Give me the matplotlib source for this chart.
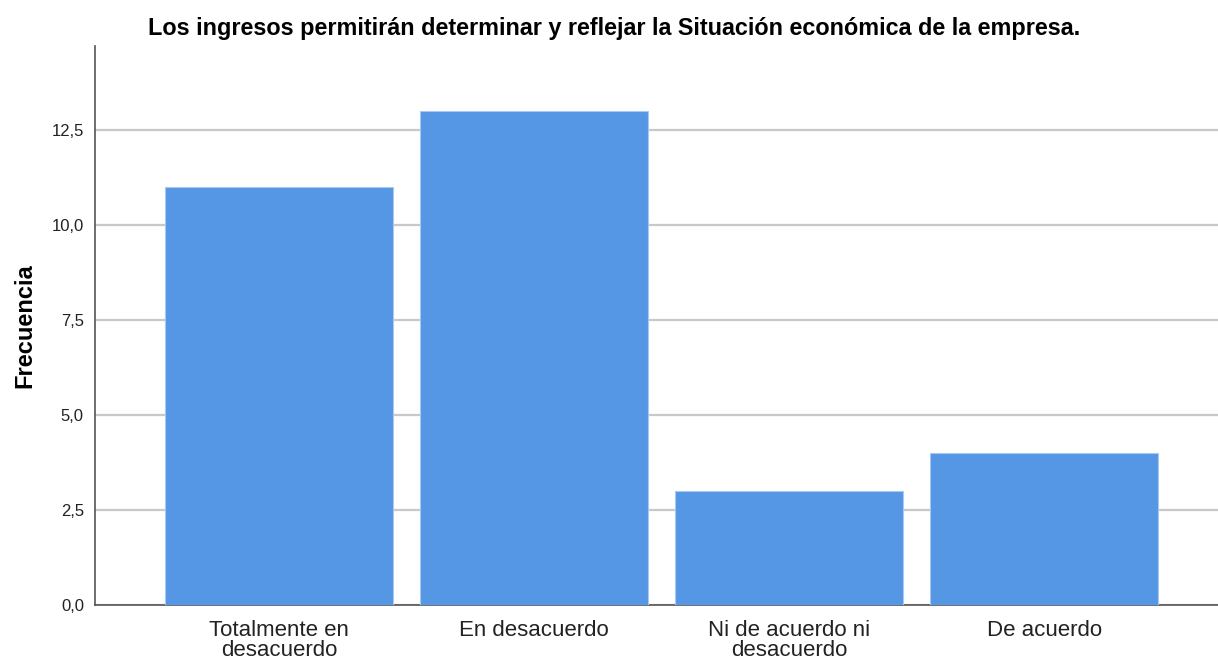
import matplotlib
matplotlib.use('Agg')
import matplotlib.pyplot as plt
from matplotlib.ticker import FuncFormatter, MultipleLocator

categorias = ['Totalmente en\ndesacuerdo', 'En desacuerdo', 'Ni de acuerdo ni\ndesacuerdo', 'De acuerdo']
frecuencias = [11, 13, 3, 4]
titulo = 'Los ingresos permitirán determinar y reflejar la Situación económica de la empresa.'

plt.rcParams['font.family'] = ['Liberation Sans', 'DejaVu Sans']

fig = plt.figure(figsize=(12.18, 6.62), dpi=100)
ax = fig.add_axes([95 / 1218, 57 / 662, 1 - 95 / 1218, (605 - 46) / 662])

x = list(range(len(categorias)))
ax.bar(x, frecuencias, width=0.894, color='#5596e5', edgecolor='#a9c9f2', linewidth=0.8, zorder=3)

ax.set_xlim(-0.722, 3.682)
ax.set_ylim(0, 14.71)
ax.yaxis.set_major_locator(MultipleLocator(2.5))
ax.yaxis.set_major_formatter(FuncFormatter(lambda v, p: f'{v:.1f}'.replace('.', ',')))
ax.grid(axis='y', color='#c8c8c8', linewidth=1.6, zorder=0)
ax.set_xticks(x)
ax.set_xticklabels(categorias, fontsize=16, color='#222222', linespacing=0.95)
ax.tick_params(axis='y', labelsize=12, length=0, pad=8, labelcolor='#222222')
ax.tick_params(axis='x', length=0, pad=11)

for s in ['top', 'right']:
    ax.spines[s].set_visible(False)
for s in ['left', 'bottom']:
    ax.spines[s].set_color('#555555')
    ax.spines[s].set_linewidth(1.2)

ax.set_ylabel('Frecuencia', fontsize=17, fontweight='bold', labelpad=11)
fig.text(614 / 1218, 1 - 29 / 662, titulo, fontsize=16.8, fontweight='bold', ha='center', va='center')

fig.savefig('out.png', dpi=100)
